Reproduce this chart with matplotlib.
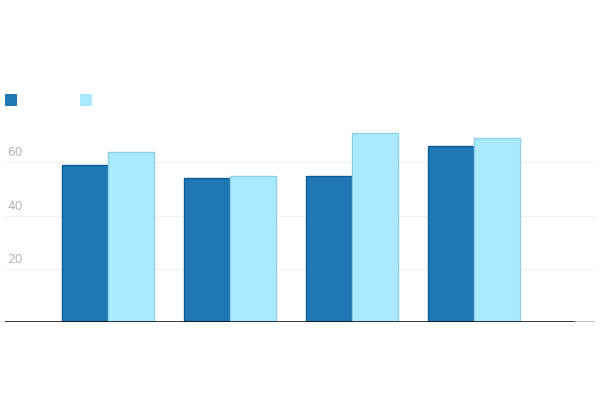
import matplotlib
matplotlib.use("Agg")
import matplotlib.pyplot as plt
import numpy as np

categories = ["A", "B", "C", "D"]
series1 = [59, 54, 54.8, 66]
series2 = [63.8, 54.8, 70.9, 69]
yticks = [20, 40, 60]

px_per_unit = (322 - 162.3) / 60.0
ytop = 80
top_px = 322 - ytop * px_per_unit

fig = plt.figure(figsize=(6, 4), dpi=100)
ax = fig.add_axes([5/600, 1 - 322/400, 590/600, (322 - top_px)/400])

x = np.arange(len(categories))
w = 0.375
ax.bar(x - w/2, series1, width=w, color="#1f77b4", edgecolor="#0b5e9a", linewidth=1)
ax.bar(x + w/2, series2, width=w, color="#aaeaff", edgecolor="#8ed2e6", linewidth=1)

x_left = (5 - 108) / 122.0
x_right = (595 - 108) / 122.0
ax.set_xlim(x_left, x_right)
ax.set_ylim(0, ytop)

for t in yticks:
    ax.axhline(t, color="#f0f0f0", linewidth=1, zorder=0)
    ax.text(x_left + 2/122.0, t + 6/px_per_unit, str(t), color="#b5b5b5", fontsize=8.8,
            ha="left", va="baseline")

black_end = (575 - 5) / 590.0
ax.axhline(0, xmin=0, xmax=black_end, color="black", linewidth=1.1, zorder=5)
ax.axhline(0, xmin=black_end, xmax=1, color="#b0b0b0", linewidth=1.1, zorder=5)

for s in ax.spines.values():
    s.set_visible(False)
ax.set_xticks([])
ax.set_yticks([])

# legend squares
fig.patches.append(matplotlib.patches.Rectangle((5/600, 1 - 106/400), 12/600, 12/400,
                   transform=fig.transFigure, facecolor="#1f77b4", edgecolor="none"))
fig.patches.append(matplotlib.patches.Rectangle((80/600, 1 - 106/400), 12/600, 12/400,
                   transform=fig.transFigure, facecolor="#aaeaff", edgecolor="none"))

fig.savefig("out.png", dpi=100)
